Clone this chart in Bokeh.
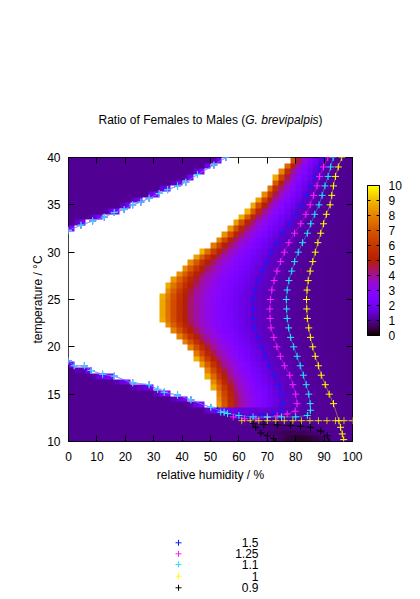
import numpy as np
from bokeh.plotting import figure
from bokeh.layouts import column
from bokeh.core.properties import value
from bokeh.models import (LinearColorMapper, ColorBar, FixedTicker, LinearAxis,
                          Range1d)
from bokeh.embed import file_html
from bokeh.resources import INLINE

# ---------------- ticks ----------------
x_ticks = [0, 10, 20, 30, 40, 50, 60, 70, 80, 90, 100]
y_ticks = [10, 15, 20, 25, 30, 35, 40]
cb_ticks = [0, 1, 2, 3, 4, 5, 6, 7, 8, 9, 10]

# ---------------- per-temperature rows ----------------
rows_T = [12.5, 13, 14, 15, 16, 17, 18, 19, 20, 21, 22, 23, 24, 25, 26, 27,
          28, 29, 30, 31, 32, 33, 34, 35, 36, 37, 38, 39, 40]
# humidity where the coloured (finite) region starts (white to the left)
edge_W = [57, 52, 52.2, 51.5, 50.3, 48.5, 46.5, 44.0, 41.0, 37.5, 34.0, 32.3,
          32.3, 32.3, 33.5, 35.5, 38.5, 42.0, 46.5, 50.5, 54.5, 58.0, 62.0,
          65.0, 68.0, 70.5, 73.0, 75.5, 78.5]
# contour positions (humidity) per row
c15_h = [60, 72, 75.3, 75.0, 73.9, 72.5, 70.8, 69.3, 68.1, 66.6, 65.4, 65.1,
         65.0, 65.0, 65.8, 66.9, 68.3, 69.8, 71.5, 73.3, 75.3, 77.8, 79.9,
         81.8, 83.7, 85.3, 86.8, 88.0, 89.3]
c125_h = [66, 77, 80.5, 80.0, 79.0, 77.9, 76.1, 74.6, 73.4, 72.3, 71.3, 71.0,
          70.9, 71.1, 71.6, 72.4, 73.4, 74.7, 76.0, 77.6, 79.6, 81.8, 83.6,
          85.1, 86.3, 87.5, 88.4, 89.8, 91.3]
c11_h = [80, 84.5, 85.1, 84.6, 83.7, 82.7, 81.6, 80.5, 79.3, 78.2, 77.5, 77.0,
         76.8, 76.7, 77.0, 77.6, 78.6, 79.6, 80.9, 82.4, 84.1, 85.3, 86.7,
         88.2, 89.3, 90.3, 91.4, 92.3, 93.2]
c10_h = [95, 94.6, 93.3, 91.8, 90.4, 89.0, 88.0, 86.9, 86.0, 85.2, 84.6, 84.1,
         83.9, 83.8, 84.0, 84.4, 85.1, 86.0, 86.9, 87.8, 88.8, 89.8, 90.8,
         92.1, 92.7, 93.3, 94.0, 95.0, 96.2]

# ratio profile between the white edge (0) and the 1.5 contour (1)
prof_d = [0, 0.06, 0.12, 0.18, 0.24, 0.36, 0.55, 0.73, 1.0]
prof_v = [9.0, 8.0, 7.0, 6.0, 5.2, 4.0, 3.0, 2.3, 1.5]
peak_T = [12.5, 13.0, 13.5, 13.7, 40]
peak_v = [1.6, 2.0, 2.4, 9.0, 9.0]

# boundaries of the undefined (white) wedge
up_h = [0, 4.4, 8.5, 12.6, 16.1, 19.6, 22.6, 25.5, 28.4, 31.9, 34.9, 38.4,
        41.3, 45.4, 51.2, 55.4]
up_T = [32.3, 32.85, 33.3, 33.7, 34.2, 34.5, 35.0, 35.3, 35.7, 36.2, 36.6,
        37.0, 37.4, 38.2, 39.2, 40.0]
lo_h = [0, 2.0, 5.6, 7.9, 12.0, 16.1, 22.6, 28.4, 31.4, 33.7, 38.4, 43.1,
        50.1, 54.8]
lo_T = [18.5, 18.0, 18.0, 17.5, 17.1, 16.9, 16.2, 16.0, 15.5, 15.2, 14.9,
        14.4, 13.6, 13.1]
floor_h = [58, 62, 100]
floor_T = [12.6, 12.35, 12.35]

# dark pocket (ratio < 0.9) at the bottom
dark_T = [10.3, 10.9, 11.5]
dark_lo = [72, 68, 66]
dark_hi = [91.5, 90, 85]
dark_v = [0.3, 0.55, 0.8]

# contour tails near the bottom
blue_tail_h = [75.2, 72, 68, 64, 60, 56, 52.5]
blue_tail_T = [13.3, 12.95, 12.75, 12.65, 12.65, 12.9, 13.3]
mag_tail_h = [79.8, 77, 73.5, 70, 66, 62, 58]
mag_tail_T = [13.2, 12.9, 12.7, 12.55, 12.4, 12.4, 12.6]
cyan_tail_h = [85.2, 84.1, 80, 75, 70, 65, 60, 56, 53.6]
cyan_tail_T = [13.3, 12.75, 12.6, 12.6, 12.6, 12.6, 12.75, 12.95, 13.1]
yel_tail_h = [95.2, 95.8, 96.4, 96.9]
yel_tail_T = [12.2, 11.5, 10.8, 10.2]
yel_floor_h = [61, 64, 67, 70, 73, 76, 79, 82, 85, 88, 91, 94, 97, 100]
yel_floor_T = [12.2, 12.2, 12.2, 12.2, 12.2, 12.2, 12.2, 12.2, 12.2, 12.2,
               12.2, 12.2, 12.2, 12.2]
c09_h = [73, 72.2, 70, 67.7, 65.9, 65, 68.8, 73.5, 78.2, 81.7, 85.2, 88.8,
         91.1, 91.8]
c09_T = [10.0, 10.3, 10.6, 10.9, 11.5, 11.9, 11.8, 11.75, 11.7, 11.6, 11.5,
         11.1, 10.6, 10.0]

levels = ["1.5", "1.25", "1.1", "1", "0.9"]
level_colors = ["#1a1aff", "#ff20ff", "#20e8ff", "#ffff00", "#000000"]

title_parts = ["Ratio of Females to Males (", "G. brevipalpis", ")"]
title_styles = ["normal", "italic", "normal"]

# ---------------- build the ratio grid ----------------
nx, ny = 50, 50
hc = np.arange(nx) * 2.0 + 1.0
Tc = 10.0 + 0.6 * np.arange(ny) + 0.3
grid = np.full((ny, nx), np.nan)
prof_f = (np.array(prof_v) - 1.5) / (prof_v[0] - 1.5)
lo_full_h = lo_h + floor_h
lo_full_T = lo_T + floor_T
up_line = np.interp(hc, up_h, up_T)
lo_line = np.interp(hc, lo_full_h, lo_full_T)
for j, T in enumerate(Tc):
    W = np.interp(T, rows_T, edge_W)
    pk = np.interp(T, peak_T, peak_v)
    a15 = np.interp(T, rows_T, c15_h)
    a125 = np.interp(T, rows_T, c125_h)
    a11 = np.interp(T, rows_T, c11_h)
    a10 = np.interp(T, rows_T, c10_h)
    for i, h in enumerate(hc):
        if h < up_h[-1] and T > up_line[i]:
            dist = T - up_line[i]
            v = 1.0 + 1.6 * max(0.0, 1 - dist / 0.6)
        elif T < lo_line[i]:
            dist = lo_line[i] - T
            v = 1.0
            if h < 52:
                v += 1.6 * max(0.0, 1 - dist / 0.6)
            if T < 12.0:
                dl = np.interp(T, dark_T, dark_lo)
                dh = np.interp(T, dark_T, dark_hi)
                dv = np.interp(T, dark_T, dark_v)
                if dl < h < dh:
                    mid, half = (dl + dh) / 2, (dh - dl) / 2
                    v = dv + (0.95 - dv) * ((h - mid) / half) ** 2
        elif h < W:
            v = np.nan
        elif h < a15:
            d = (h - W) / (a15 - W)
            v = 1.5 + (pk - 1.5) * np.interp(d, prof_d, prof_f)
        else:
            v = np.interp(h, [a15, a125, a11, a10, 100],
                          [1.5, 1.25, 1.1, 1.0, 0.93])
        grid[j, i] = v

# gnuplot default palette (rgbformulae 7,5,15)
xs = np.linspace(0, 1, 256)
pal = []
for x in xs:
    r = np.sqrt(x)
    g = x ** 3
    b = max(0.0, np.sin(2 * np.pi * x))
    pal.append("#%02x%02x%02x" % (int(round(r * 255)), int(round(g * 255)),
                                  int(round(b * 255))))
mapper = LinearColorMapper(palette=pal, low=0, high=10, nan_color="white")

FONT = "Liberation Sans"
LEFT, FRAME, RIGHT = 68, 284, 60


def blank(height):
    # frame aligned with the main plot; x data units = page pixels
    f = figure(frame_width=FRAME, frame_height=height,
               x_range=Range1d(LEFT, LEFT + FRAME), y_range=Range1d(0, height),
               min_border_left=LEFT, min_border_right=RIGHT,
               min_border_top=0, min_border_bottom=0,
               x_axis_type=None, y_axis_type=None, output_backend="svg",
               toolbar_location=None)
    f.grid.visible = False
    f.outline_line_color = None
    return f


# ---------------- title strip ----------------
TITLE_H = 140
pt = blank(TITLE_H)
title_x = [98.0, 244.7, 318.0]
for k in range(3):
    pt.text(x=[title_x[k]], y=[TITLE_H - 119], text=[title_parts[k]],
            text_font=value(FONT), text_font_size="12px",
            text_font_style=title_styles[k], text_color="black",
            text_baseline="alphabetic", text_align="left")

# ---------------- main plot ----------------
p = figure(frame_width=FRAME, frame_height=284, min_border_left=LEFT,
           min_border_right=RIGHT, min_border_top=157 - TITLE_H,
           min_border_bottom=59,
           x_range=Range1d(0, 100), y_range=Range1d(10, 40),
           output_backend="svg", toolbar_location=None, title=None)
p.grid.visible = False
p.outline_line_color = "black"
p.outline_line_width = 1
p.background_fill_color = "white"

p.image(image=[grid], x=0, y=10, dw=100, dh=30, color_mapper=mapper)


def draw(hs, Ts, col, alpha=1.0):
    p.line(hs, Ts, line_color=col, line_width=1, line_alpha=0.4 * alpha)
    return p.scatter(hs, Ts, marker="cross", size=7, line_color=col,
                     line_width=1, line_alpha=alpha)


rT = list(reversed(rows_T[2:]))
for k, (arr, th, tT) in enumerate([(c15_h, blue_tail_h, blue_tail_T),
                                   (c125_h, mag_tail_h, mag_tail_T),
                                   (c11_h, cyan_tail_h, cyan_tail_T)]):
    col = level_colors[k]
    draw(list(reversed(arr[2:])) + th, rT + tT, col)
    draw(up_h, up_T, col)
    draw(lo_h, lo_T, col)
draw(list(reversed(c10_h[2:])) + yel_tail_h, rT + yel_tail_T, level_colors[3])
draw(yel_floor_h, yel_floor_T, level_colors[3], alpha=0.7)
draw(c09_h, c09_T, level_colors[4])

for ax in (p.xaxis[0], p.yaxis[0]):
    ax.major_tick_in = 6
    ax.major_tick_out = 0
    ax.minor_tick_line_color = None
    ax.axis_line_color = None
    ax.major_tick_line_color = "black"
    ax.major_label_text_font = FONT
    ax.major_label_text_font_size = "12px"
    ax.major_label_text_color = "black"
    ax.axis_label_text_font = FONT
    ax.axis_label_text_font_size = "12px"
    ax.axis_label_text_font_style = "normal"
    ax.axis_label_text_color = "black"
p.xaxis.ticker = FixedTicker(ticks=x_ticks)
p.yaxis.ticker = FixedTicker(ticks=y_ticks)
p.xaxis.axis_label = "relative humidity / %"
p.yaxis.axis_label = "temperature / \u00b0C"
p.xaxis.major_label_standoff = 10
p.xaxis.axis_label_standoff = 4
p.yaxis.major_label_standoff = 8
p.yaxis.axis_label_standoff = -1

for side, tk in (("above", x_ticks), ("right", y_ticks)):
    ax = LinearAxis(ticker=FixedTicker(ticks=tk), major_tick_in=6,
                    major_tick_out=0, minor_tick_line_color=None,
                    axis_line_color=None, major_label_text_font_size="0px",
                    major_label_text_color=None, major_label_standoff=0)
    p.add_layout(ax, side)

cb = ColorBar(color_mapper=mapper, location=(299, 106), width=12, height=150,
              padding=0, margin=0, ticker=FixedTicker(ticks=cb_ticks),
              major_tick_in=12, major_tick_out=0,
              major_tick_line_color="black", major_tick_line_dash="3 6",
              bar_line_color="black", label_standoff=9,
              major_label_text_font=FONT, major_label_text_font_size="12px",
              major_label_text_color="black", border_line_color=None,
              background_fill_alpha=0)
p.add_layout(cb)

# ---------------- legend strip (contour key) ----------------
LEG_H = 96
pl = blank(LEG_H)
row_centres = [42.3, 53.3, 64.0, 75.7, 87.3]
leg_y = [LEG_H - c for c in row_centres]
pl.scatter(x=[178] * 5, y=leg_y, marker="cross", size=6,
           line_color=level_colors, line_width=1)
pl.text(x=[258] * 5, y=leg_y, text=levels, text_font=value(FONT),
        text_font_size="12px", text_color="black", text_align="right",
        text_baseline="middle")

layout = column(pt, p, pl, spacing=0)
open("out.html", "w").write(file_html(layout, INLINE))
